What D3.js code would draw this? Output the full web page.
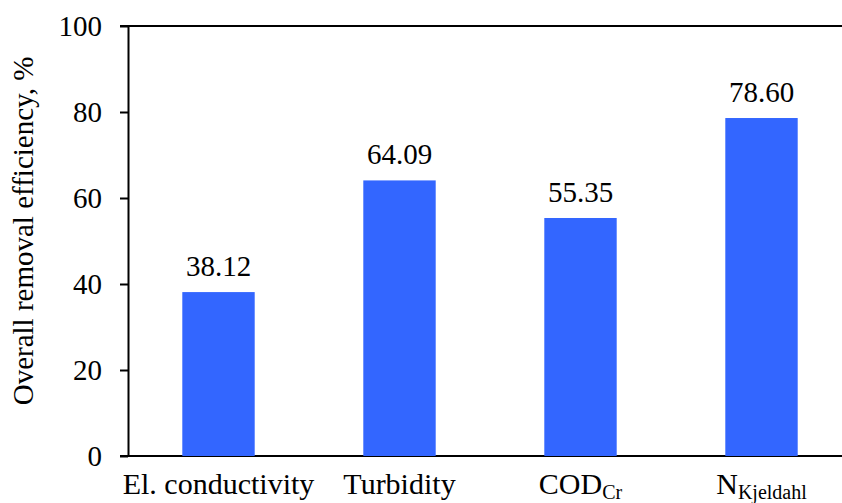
<!DOCTYPE html>
<html>
<head>
<meta charset="utf-8">
<script src="https://cdn.jsdelivr.net/npm/d3@7"></script>
<style>
  html, body { margin: 0; padding: 0; background: #fff; }
  svg { display: block; }
  svg text { font-family: "Liberation Serif", "Times New Roman", serif; fill: #000; }
</style>
</head>
<body>
<svg id="chart" width="842" height="503"></svg>
<script>
const categories = ["El. conductivity", "Turbidity", "COD", "N"];
const subscripts = ["", "", "Cr", "Kjeldahl"];
const values = [38.12, 64.09, 55.35, 78.60];
const yTicks = [0, 20, 40, 60, 80, 100];
const yLabel = "Overall removal efficiency, %";

(function () {
const W = 842, H = 503;
const FONT = "Liberation Serif";
const svg = d3.select("#chart");
const mLeft = 128, mTop = 26, mBottom = 456;

const x = d3.scaleBand().domain(categories).range([mLeft, 852]).paddingInner(0.6).paddingOuter(0.3);
const y = d3.scaleLinear().domain([0, 100]).range([mBottom, mTop]);

// frame lines (top and bottom) spanning to right edge
svg.append("line").attr("x1", mLeft - 8).attr("x2", W).attr("y1", y(100)).attr("y2", y(100))
  .attr("stroke", "#000").attr("stroke-width", 2);
svg.append("line").attr("x1", mLeft - 8).attr("x2", W).attr("y1", y(0)).attr("y2", y(0))
  .attr("stroke", "#000").attr("stroke-width", 2);

// bars
svg.append("g").selectAll("rect").data(values).join("rect")
  .attr("x", (d, i) => x(categories[i]))
  .attr("width", x.bandwidth())
  .attr("y", d => y(d))
  .attr("height", d => y(0) - y(d))
  .attr("fill", "#3366FF");

// y axis
const yAxis = svg.append("g").attr("transform", `translate(${mLeft},0)`)
  .call(d3.axisLeft(y).tickValues(yTicks).tickSize(8).tickPadding(18).tickSizeOuter(0));
yAxis.attr("font-family", FONT).attr("font-size", 29);
yAxis.select(".domain").attr("stroke", "#000").attr("stroke-width", 2);
yAxis.selectAll(".tick line").attr("stroke", "#000").attr("stroke-width", 2).attr("x1", 0);
yAxis.selectAll(".tick text").attr("font-size", 29).attr("font-family", FONT).attr("fill", "#000");

// value labels
svg.append("g").selectAll("text").data(values).join("text")
  .attr("x", (d, i) => x(categories[i]) + x.bandwidth() / 2)
  .attr("y", d => y(d) - 16)
  .attr("text-anchor", "middle")
  .attr("font-family", FONT)
  .attr("font-size", 29)
  .text(d => d.toFixed(2));

// x labels
const xl = svg.append("g").selectAll("text").data(categories).join("text")
  .attr("x", d => x(d) + x.bandwidth() / 2)
  .attr("y", 494)
  .attr("text-anchor", "middle")
  .attr("font-family", FONT)
  .attr("font-size", 30);
xl.each(function(d, i) {
  const t = d3.select(this);
  t.append("tspan").text(d);
  if (subscripts[i]) {
    t.append("tspan").attr("font-size", 20).attr("dy", 5).text(subscripts[i]);
  }
});

// y label
svg.append("text")
  .attr("transform", `translate(33, ${(mBottom + mTop) / 2 - 10}) rotate(-90)`)
  .attr("text-anchor", "middle")
  .attr("font-family", FONT)
  .attr("font-size", 29)
  .text(yLabel);
})();
</script>
</body>
</html>
